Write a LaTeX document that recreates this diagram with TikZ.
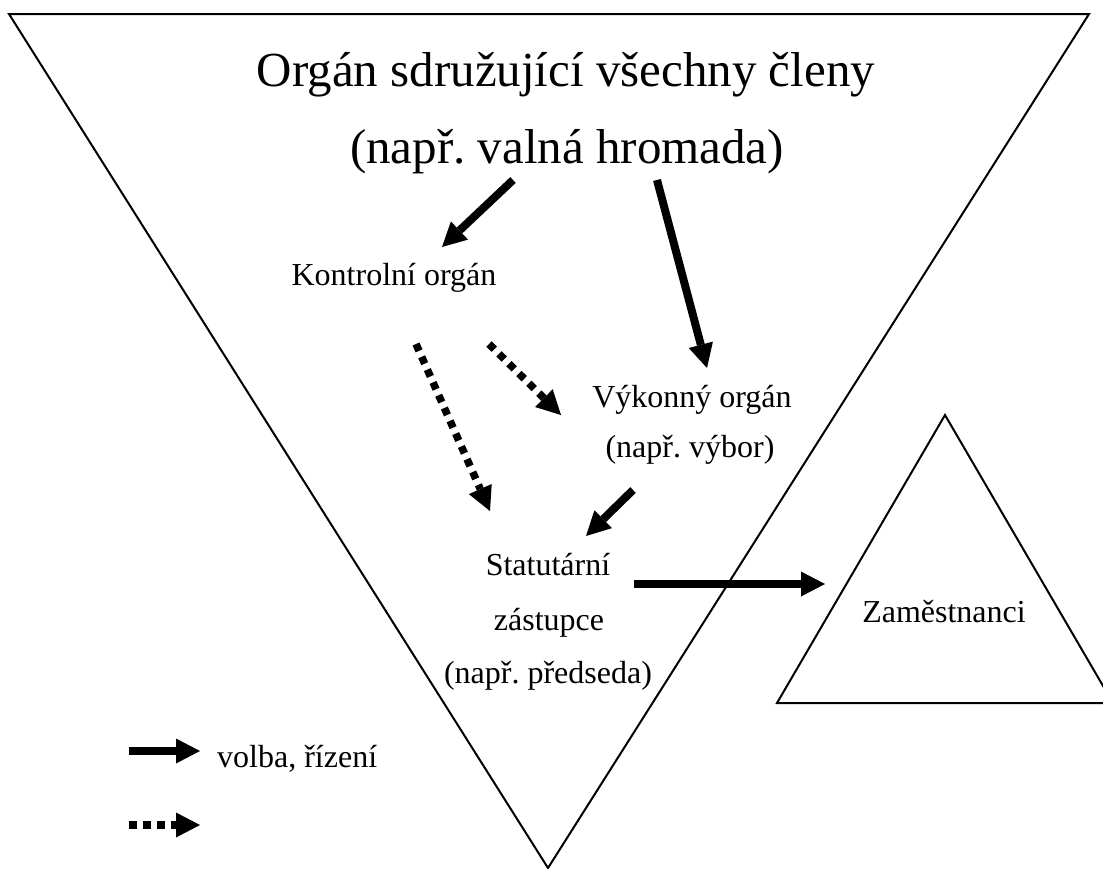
\documentclass[tikz,border=0pt]{standalone}
\usepackage{fontspec}
\setmainfont{Liberation Serif}
\usetikzlibrary{arrows.meta}
\frenchspacing
\tikzset{
  big/.style={font=\fontsize{49}{49}\selectfont, inner sep=0pt, anchor=base},
  lbl/.style={font=\fontsize{32}{32}\selectfont, inner sep=0pt, anchor=base},
  frame/.style={draw=black, line width=2pt, line join=miter},
  solidarrow/.style={line width=8pt, -{Triangle[length=24pt,width=25pt,line width=0pt]}},
  dotarrow/.style={line width=7.5pt, dash pattern=on 7.5pt off 6.5pt, line cap=butt, -{Triangle[length=24pt,width=25pt,line width=0pt]}}
}
\begin{document}
\begin{tikzpicture}[x=1pt,y=-1pt]
\useasboundingbox (0,0) rectangle (1103,868);
\clip (0,0) rectangle (1103,868);
\fill[white] (0,0) rectangle (1103,868);
% triangles
\draw[frame] (9,14) -- (1089,14) -- (548,868) -- cycle;
\draw[frame] (945,415) -- (1113,703) -- (777,703) -- cycle;
% texts
\node[big] (title1) at (566,86) {Orgán sdružující všechny členy};
\node[big] (title2) at (567,163) {(např. valná hromada)};
\node[lbl] (kontrol) at (394,285) {Kontrolní orgán};
\node[lbl] (vykon1) at (692,407) {Výkonný orgán};
\node[lbl] (vykon2) at (690,457) {(např. výbor)};
\node[lbl] (stat1) at (548,575) {Statutární};
\node[lbl] (stat2) at (549,630) {zástupce};
\node[lbl] (stat3) at (548,683) {(např. předseda)};
\node[lbl] (zam) at (944,622) {Zaměstnanci};
\node[lbl, anchor=base west] (legsolid) at (217,767) {volba, řízení};
% arrow end points
\coordinate (a1s) at (513,180);
\coordinate (a1e) at (442,247);
\coordinate (a2s) at (657,180);
\coordinate (a2e) at (707,368);
\coordinate (a3s) at (633,490);
\coordinate (a3e) at (586,536);
\coordinate (a4s) at (634,584);
\coordinate (a4e) at (825,584);
\coordinate (d1s) at (416,344);
\coordinate (d1e) at (490,511);
\coordinate (d2s) at (489,344);
\coordinate (d2e) at (561,415);
\coordinate (l1s) at (129,751);
\coordinate (l1e) at (200,751);
\coordinate (l2s) at (129,825);
\coordinate (l2e) at (200,825);
% arrows
\draw[solidarrow] (a1s) -- (a1e);
\draw[solidarrow] (a2s) -- (a2e);
\draw[solidarrow] (a3s) -- (a3e);
\draw[solidarrow] (a4s) -- (a4e);
\draw[dotarrow] (d1s) -- (d1e);
\draw[dotarrow] (d2s) -- (d2e);
\draw[solidarrow] (l1s) -- (l1e);
\draw[dotarrow] (l2s) -- (l2e);
\end{tikzpicture}
\end{document}
